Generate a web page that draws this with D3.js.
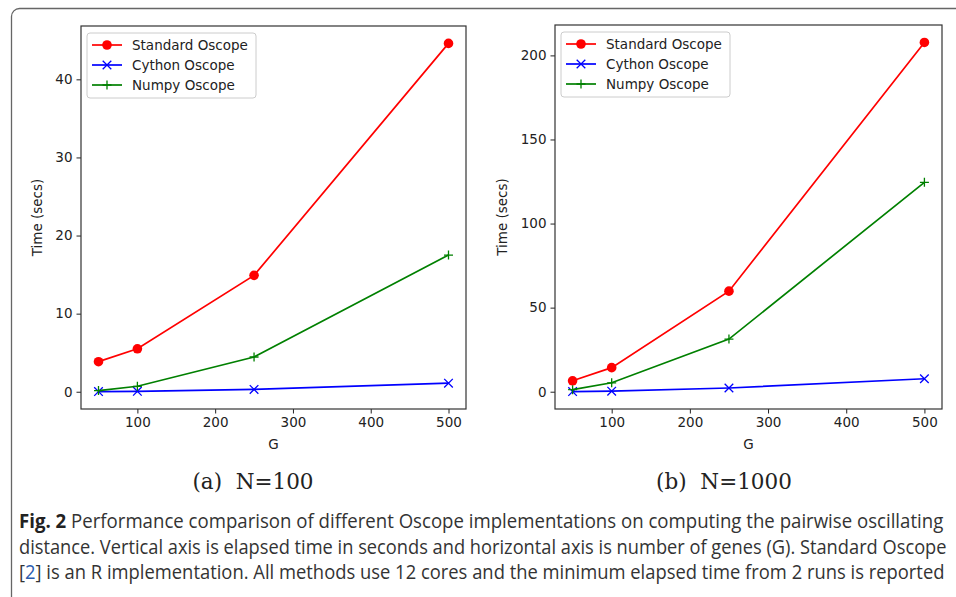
<!DOCTYPE html>
<html>
<head>
<meta charset="utf-8">
<script src="https://cdn.jsdelivr.net/npm/d3@7"></script>
<style>
  body { margin: 0; background: #fff; }
  svg { display: block; }
</style>
</head>
<body>
<div id="chart"></div>
<script>
// data
const genes = [50, 100, 250, 500];
const seriesNames = ["Standard Oscope", "Cython Oscope", "Numpy Oscope"];
const standardN100 = [3.85, 5.5, 14.9, 44.6];
const cythonN100 = [0.02, 0.05, 0.3, 1.1];
const numpyN100 = [0.15, 0.7, 4.45, 17.5];
const standardN1000 = [6.5, 14.3, 59.8, 207.7];
const cythonN1000 = [0.1, 0.3, 2.2, 7.7];
const numpyN1000 = [1.2, 5.3, 31.3, 124.5];
const xTicks = [100, 200, 300, 400, 500];
const yTicksN100 = [0, 10, 20, 30, 40];
const yTicksN1000 = [0, 50, 100, 150, 200];
const subCaptions = ["(a)  N=100", "(b)  N=1000"];
const captionLines = [
    ["Fig. 2", " Performance comparison of different Oscope implementations on computing the pairwise oscillating"],
    ["", "distance. Vertical axis is elapsed time in seconds and horizontal axis is number of genes (G). Standard Oscope"],
    ["", "[2] is an R implementation. All methods use 12 cores and the minimum elapsed time from 2 runs is reported"]
];

const colors = ["#ff0000", "#0000ff", "#008000"];
const markers = ["circle", "x", "plus"];
const W = 956, H = 597;
const font = "'DejaVu Sans', sans-serif";
const fontSize = "13.5px";

const svg = d3.select("#chart").append("svg")
    .attr("width", W)
    .attr("height", H);

// outer figure frame
svg.append("rect")
    .attr("x", 11.5).attr("y", 8.5)
    .attr("width", 980).attr("height", 620)
    .attr("rx", 8)
    .attr("fill", "none")
    .attr("stroke", "#666")
    .attr("stroke-width", 1.3);

// matplotlib style 5% padding
function paddedDomain(values) {
    const ext = d3.extent(values);
    const pad = (ext[1] - ext[0]) * 0.05;
    return [ext[0] - pad, ext[1] + pad];
}

function drawPanel(box, series, yTicks, subCaption, capX, labelOffset) {
    const g = svg.append("g");
    const x = d3.scaleLinear().domain(paddedDomain(genes)).range([box.left, box.right]);
    const y = d3.scaleLinear().domain(paddedDomain(series.flat())).range([box.bottom, box.top]);

    const xAxis = g.append("g")
        .attr("transform", `translate(0,${box.bottom})`)
        .call(d3.axisBottom(x).tickValues(xTicks).tickSize(4.5).tickPadding(4).tickFormat(d3.format("d")));
    const yAxis = g.append("g")
        .attr("transform", `translate(${box.left},0)`)
        .call(d3.axisLeft(y).tickValues(yTicks).tickSize(4.5).tickPadding(4).tickFormat(d3.format("d")));
    [xAxis, yAxis].forEach(a => {
        a.select(".domain").remove();
        a.selectAll("line").attr("stroke", "#222").attr("stroke-width", 1);
        a.selectAll("text").attr("fill", "#222").style("font-family", font).style("font-size", fontSize);
    });

    // frame of axes
    g.append("rect")
        .attr("x", box.left).attr("y", box.top)
        .attr("width", box.right - box.left).attr("height", box.bottom - box.top)
        .attr("fill", "none")
        .attr("stroke", "#333")
        .attr("stroke-width", 1.2);

    const line = d3.line().x((d, i) => x(genes[i])).y(d => y(d));

    series.forEach((vals, s) => {
        g.append("path")
            .datum(vals)
            .attr("d", line)
            .attr("fill", "none")
            .attr("stroke", colors[s])
            .attr("stroke-width", 1.7);
        vals.forEach((v, i) => drawMarker(g, markers[s], x(genes[i]), y(v), colors[s]));
    });

    // axis labels
    g.append("text")
        .attr("x", (box.left + box.right) / 2).attr("y", box.bottom + 40)
        .attr("text-anchor", "middle")
        .style("font-family", font).style("font-size", fontSize)
        .attr("fill", "#222")
        .text("G");
    g.append("text")
        .attr("transform", `translate(${box.left - labelOffset},${(box.top + box.bottom) / 2}) rotate(-90)`)
        .attr("text-anchor", "middle")
        .style("font-family", font).style("font-size", fontSize)
        .attr("fill", "#222")
        .text("Time (secs)");

    // legend
    const lg = g.append("g").attr("transform", `translate(${box.left + 6},${box.top + 7})`);
    lg.append("rect")
        .attr("width", 169).attr("height", 65)
        .attr("rx", 3)
        .attr("fill", "#fff").attr("fill-opacity", 0.8)
        .attr("stroke", "#ccc");
    seriesNames.forEach((name, s) => {
        const cy = 12 + s * 20;
        lg.append("line")
            .attr("x1", 5).attr("x2", 35).attr("y1", cy).attr("y2", cy)
            .attr("stroke", colors[s]).attr("stroke-width", 1.7);
        drawMarker(lg, markers[s], 20, cy, colors[s]);
        lg.append("text")
            .attr("x", 45).attr("y", cy + 5)
            .style("font-family", font).style("font-size", fontSize)
            .attr("fill", "#222")
            .text(name);
    });

    // sub caption
    svg.append("text")
        .attr("x", capX).attr("y", 489)
        .attr("text-anchor", "middle")
        .style("font-family", "'DejaVu Serif', 'Liberation Serif', serif")
        .style("font-size", "21.5px")
        .style("white-space", "pre")
        .attr("fill", "#222")
        .text(subCaption);
}

function drawMarker(g, type, cx, cy, color) {
    if (type === "circle") {
        g.append("circle").attr("cx", cx).attr("cy", cy).attr("r", 4.8).attr("fill", color);
    } else if (type === "x") {
        const r = 4.3;
        g.append("path")
            .attr("d", `M${cx - r},${cy - r}L${cx + r},${cy + r}M${cx - r},${cy + r}L${cx + r},${cy - r}`)
            .attr("stroke", color).attr("stroke-width", 1.3).attr("fill", "none");
    } else {
        const r = 4.5;
        g.append("path")
            .attr("d", `M${cx - r},${cy}L${cx + r},${cy}M${cx},${cy - r}L${cx},${cy + r}`)
            .attr("stroke", color).attr("stroke-width", 1.3).attr("fill", "none");
    }
}

drawPanel({left: 81, right: 466, top: 26, bottom: 409},
    [standardN100, cythonN100, numpyN100], yTicksN100, subCaptions[0], 253, 39);
drawPanel({left: 555, right: 942, top: 25, bottom: 409},
    [standardN1000, cythonN1000, numpyN1000], yTicksN1000, subCaptions[1], 724, 48);

// figure caption, squeezed horizontally to the condensed width of the original
const capFont = "'Liberation Sans Narrow', 'Open Sans', sans-serif";
const capWidths = [925, 928, 926];
captionLines.forEach((parts, i) => {
    const cg = svg.append("g");
    const t = cg.append("text")
        .attr("x", 0).attr("y", 0)
        .style("font-family", capFont)
        .style("font-size", "20px")
        .attr("fill", "#333");
    if (parts[0]) t.append("tspan").style("font-weight", "bold").attr("fill", "#222").text(parts[0]);
    if (i === 2) {
        t.append("tspan").text("[");
        t.append("tspan").attr("fill", "#2a5db0").text("2");
        t.append("tspan").text(parts[1].slice(2));
    } else {
        t.append("tspan").text(parts[1]);
    }
    const natural = t.node().getComputedTextLength();
    const k = capWidths[i] / natural;
    cg.attr("transform", `translate(19,${528 + i * 25.5}) scale(${k},1)`);
});
</script>
</body>
</html>
